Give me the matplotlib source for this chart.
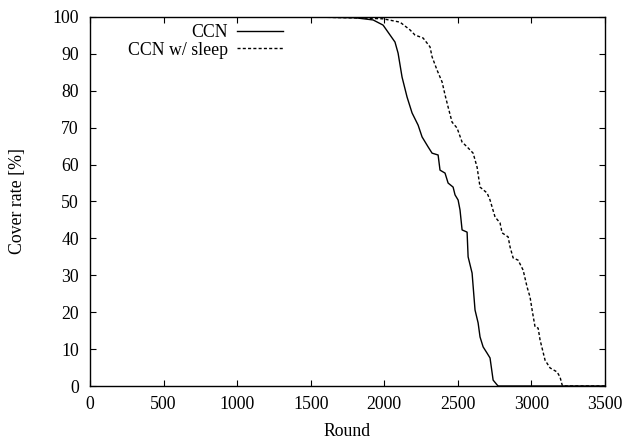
import matplotlib
matplotlib.use("Agg")
import matplotlib.pyplot as plt

ccn_round = [0, 1500, 1800, 1924, 1992, 2073, 2094, 2121, 2155, 2189, 2230, 2257, 2298,
             2325, 2366, 2379, 2413, 2434, 2468, 2481, 2502, 2515, 2529, 2563, 2570, 2597,
             2617, 2638, 2651, 2672, 2699, 2719, 2740, 2767, 2775, 3500]
ccn_cover = [100, 100, 99.8, 99.2, 97.8, 93.2, 90.2, 83.7, 78.3, 74.0, 70.7, 67.5, 64.8,
             63.1, 62.6, 58.5, 57.7, 55.0, 53.9, 51.8, 50.4, 47.7, 42.3, 41.7, 35.0, 30.6,
             20.6, 17.1, 13.3, 10.6, 8.9, 7.6, 1.6, 0.3, 0, 0]

sleep_round = [0, 1500, 1856, 1992, 2107, 2175, 2209, 2264, 2311, 2325, 2359, 2393, 2413,
               2434, 2461, 2495, 2529, 2563, 2604, 2631, 2651, 2699, 2719, 2753, 2787, 2801,
               2842, 2855, 2876, 2910, 2944, 2971, 2991, 3005, 3025, 3046, 3059, 3093, 3127,
               3175, 3195, 3209, 3215, 3500]
sleep_cover = [100, 100, 99.7, 99.5, 98.6, 96.5, 95.1, 94.3, 91.9, 89.2, 85.6, 82.4, 78.9,
               75.6, 71.5, 69.9, 66.1, 64.8, 63.1, 59.3, 53.9, 52.3, 50.4, 45.8, 44.2, 41.5,
               40.4, 37.7, 34.7, 34.1, 31.4, 26.8, 24.1, 20.6, 16.0, 15.7, 12.5, 7.0, 4.9,
               3.8, 2.4, 0.3, 0, 0]

x_ticks = [0, 500, 1000, 1500, 2000, 2500, 3000, 3500]
y_ticks = [0, 10, 20, 30, 40, 50, 60, 70, 80, 90, 100]

plt.rcParams['font.family'] = ['Liberation Serif', 'DejaVu Serif']
plt.rcParams['font.size'] = 12.8

fig = plt.figure(figsize=(6.23, 4.41), dpi=100)
ax = fig.add_axes([0.1445, 0.1247, 0.8265, 0.8368])

ax.plot(ccn_round, ccn_cover, color='black', lw=1.0, label='CCN')
ax.plot(sleep_round, sleep_cover, color='black', lw=1.0, linestyle=(0, (2.2, 1.6)),
        label='CCN w/ sleep')

ax.set_xlim(0, 3500)
ax.set_ylim(0, 100)
ax.set_xticks(x_ticks)
ax.set_yticks(y_ticks)
ax.tick_params(axis='x', direction='in', top=True, length=4, width=0.8, pad=7.5)
ax.tick_params(axis='y', direction='in', right=True, length=4, width=0.8, pad=8)
for s in ax.spines.values():
    s.set_linewidth(1.0)

ax.set_xlabel('Round', labelpad=7)
ax.set_ylabel('Cover rate [%]', labelpad=19)

leg = ax.legend(loc='upper right', bbox_to_anchor=(0.375, 0.98), frameon=False,
                markerfirst=False, handlelength=2.6, handletextpad=0.5,
                labelspacing=0.02, borderaxespad=0.0, borderpad=0.0)

fig.savefig('out.png', dpi=100)
